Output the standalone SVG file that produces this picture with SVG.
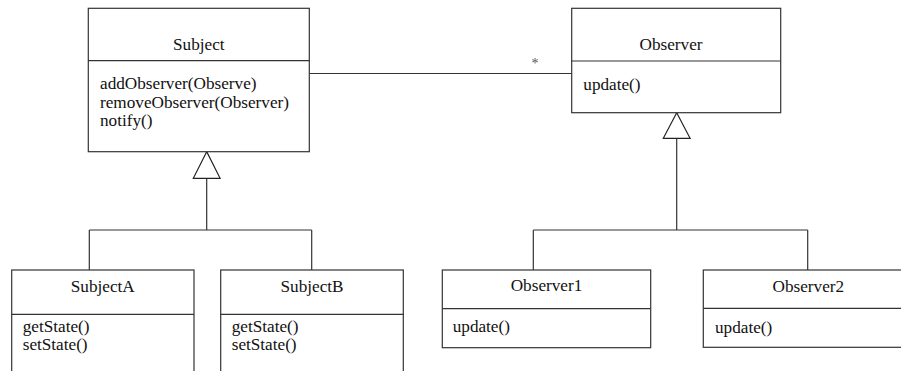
<svg xmlns="http://www.w3.org/2000/svg" width="901" height="371" viewBox="0 0 901 371">
<style>
.box{fill:#fff;stroke:#333;stroke-width:1.2}
.ln{fill:none;stroke:#333;stroke-width:1.2}
.tri{fill:#fff;stroke:#222;stroke-width:1.2}
text{font-family:"Liberation Serif","Times New Roman",serif;font-size:17.2px;fill:#111}
.c{text-anchor:middle}
</style>
<rect width="901" height="371" fill="#fff"/>
<g id="connectors">
<path class="ln" d="M309.3,73.5 H571.7"/>
<text x="535" y="68" class="c" style="font-size:14px;fill:#555">*</text>
<path class="ln" d="M206.7,178.3 V230 M89.3,230 H311.7 M89.3,230 V270 M311.7,230 V270"/>
<polygon class="tri" points="206.7,151.7 193.3,178.3 220.1,178.3"/>
<path class="ln" d="M676.7,138.3 V230 M533.3,230 H807.7 M533.3,230 V270 M807.7,230 V270"/>
<polygon class="tri" points="676.7,112.7 663.3,138.3 690.1,138.3"/>
</g>
<g id="subject">
<rect class="box" x="88.3" y="8.3" width="221" height="143.4"/>
<path class="ln" d="M88.3,60.7 H309.3"/>
<text x="198.8" y="49.5" class="c">Subject</text>
<text x="100" y="89"><tspan x="100">addObserver(Observe)</tspan><tspan x="100" dy="18.7">removeObserver(Observer)</tspan><tspan x="100" dy="18.7">notify()</tspan></text>
</g>
<g id="observer">
<rect class="box" x="571.7" y="8.3" width="209" height="104.4"/>
<path class="ln" d="M571.7,61 H780.7"/>
<text x="671" y="49.5" class="c">Observer</text>
<text x="583.3" y="89.5">update()</text>
</g>
<g id="subjectA">
<rect class="box" x="11.7" y="270" width="182.3" height="120"/>
<path class="ln" d="M11.7,314.3 H194"/>
<text x="102.8" y="291.7" class="c">SubjectA</text>
<text x="22.7" y="331.7"><tspan x="22.7">getState()</tspan><tspan x="22.7" dy="17.8">setState()</tspan></text>
</g>
<g id="subjectB">
<rect class="box" x="220.7" y="270" width="182.6" height="120"/>
<path class="ln" d="M220.7,314.3 H403.3"/>
<text x="312" y="291.7" class="c">SubjectB</text>
<text x="231.7" y="331.7"><tspan x="231.7">getState()</tspan><tspan x="231.7" dy="17.8">setState()</tspan></text>
</g>
<g id="observer1">
<rect class="box" x="442.3" y="270" width="208.4" height="77.7"/>
<path class="ln" d="M442.3,308.7 H650.7"/>
<text x="546.5" y="291.3" class="c">Observer1</text>
<text x="452.7" y="331.7">update()</text>
</g>
<g id="observer2">
<rect class="box" x="703.3" y="270" width="210" height="77.3"/>
<path class="ln" d="M703.3,308.3 H913.3"/>
<text x="808.3" y="291.7" class="c">Observer2</text>
<text x="715" y="332.5">update()</text>
</g>
</svg>
